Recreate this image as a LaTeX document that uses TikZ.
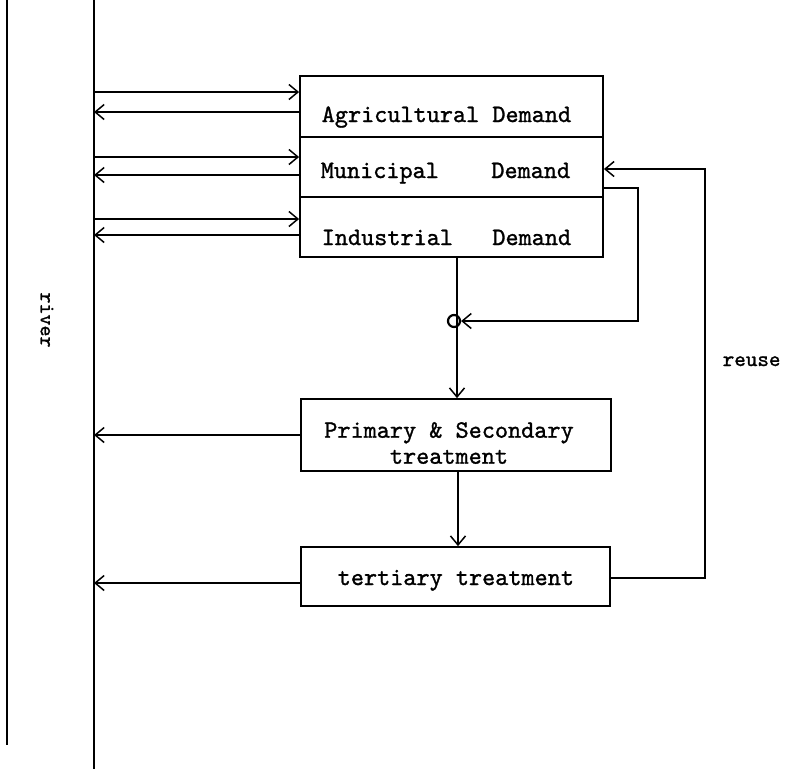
\documentclass[tikz,border=0pt]{standalone}
\usepackage{fontspec}
\newfontfamily\twfont{lmmono10-regular.otf}[FakeBold=1.2]
\usetikzlibrary{arrows.meta}
\begin{document}
\begin{tikzpicture}[x=1pt,y=-1pt,
  line width=1.5pt,
  box/.style={draw, line width=1.8pt, rectangle, inner sep=0pt},
  arr/.style={-{Straight Barb[length=9pt,width=15pt,line width=1.5pt]}},
  tw/.style={font=\twfont\fontsize{25}{26}\selectfont, inner sep=0pt},
]
\useasboundingbox (0,0) rectangle (786,769);
% river and margin line
\coordinate (rtop) at (94,0);
\coordinate (rbot) at (94,769);
\draw (rtop) -- (rbot);
\draw (7,0) -- (7,745);
\node[tw, font=\twfont\fontsize{21}{22}\selectfont, rotate=-90] (rivertxt) at (47,320) {river};

% demand boxes
\node[box, minimum width=303pt, minimum height=61pt] (agri) at (451.5,106.5) {};
\node[box, minimum width=303pt, minimum height=60pt] (muni) at (451.5,167) {};
\node[box, minimum width=303pt, minimum height=60pt] (ind) at (451.5,227) {};
\node[tw, anchor=base west] (agritxt) at (321,122) {Agricultural Demand};
\node[tw, anchor=base west] (munitxt) at (320,178) {Municipal\ \ \ \ Demand};
\node[tw, anchor=base west] (indtxt) at (321,245) {Industrial\ \ \ Demand};

% treatment boxes
\node[box, minimum width=310pt, minimum height=72pt] (prim) at (456,435) {};
\node[tw, align=center, anchor=center] (primtxt) at (449,443) {Primary \& Secondary\\treatment};
\node[box, minimum width=309pt, minimum height=59pt] (tert) at (455.5,576.5) {};
\node[tw, anchor=base west] (terttxt) at (337,585) {tertiary treatment};

\node[tw, font=\twfont\fontsize{22}{24}\selectfont, anchor=base west] (reusetxt) at (722,366) {reuse};

% river <-> demand
\coordinate (ra1) at (94,92);  \coordinate (ra2) at (94,112);
\coordinate (rm1) at (94,157); \coordinate (rm2) at (94,175);
\coordinate (ri1) at (94,219); \coordinate (ri2) at (94,235);
\draw[arr] (ra1) -- (ra1 -| agri.west);
\draw[arr] (ra2 -| agri.west) -- (ra2);
\draw[arr] (rm1) -- (rm1 -| muni.west);
\draw[arr] (rm2 -| muni.west) -- (rm2);
\draw[arr] (ri1) -- (ri1 -| ind.west);
\draw[arr] (ri2 -| ind.west) -- (ri2);

% treatment -> river
\coordinate (rp) at (94,435);
\coordinate (rt) at (94,583);
\draw[arr] (rp -| prim.west) -- (rp);
\draw[arr] (rt -| tert.west) -- (rt);

% junction and flows
\node[circle, draw, line width=2.2pt, inner sep=0pt, minimum size=12pt] (jn) at (454,321) {};
\coordinate (vx) at (457,0);
\draw[arr] (ind.south -| vx) -- (prim.north -| vx);
\coordinate (vx2) at (458,0);
\draw[arr] (prim.south -| vx2) -- (tert.north -| vx2);

% loop from municipal/industrial to junction
\coordinate (lp) at (638,188);
\draw[arr] (lp -| muni.east) -- (lp) -- (lp |- jn) -- (jn.east);

% reuse loop
\coordinate (ru) at (705,578);
\coordinate (ruT) at (705,169);
\draw[arr] (ru -| tert.east) -- (ru) -- (ruT) -- (ruT -| muni.east);
\end{tikzpicture}
\end{document}
